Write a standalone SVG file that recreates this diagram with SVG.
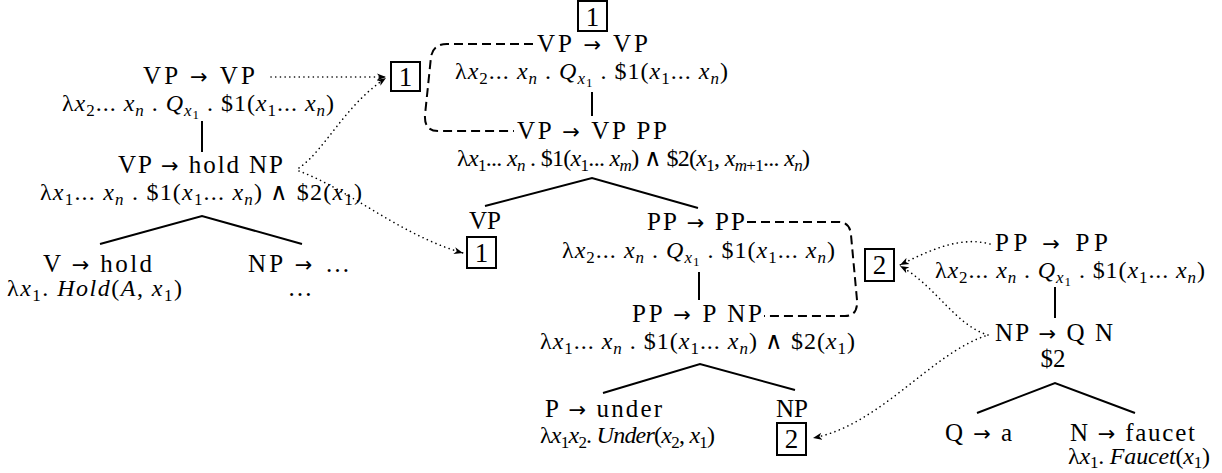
<svg xmlns="http://www.w3.org/2000/svg" width="1222" height="473" viewBox="0 0 1222 473">
<style>
.t{font-family:"Liberation Serif","Times New Roman",serif;font-size:25px;fill:#000;white-space:pre}
.l{font-size:24px}
.i{font-style:italic}
.s{font-size:17px}
.ss{font-size:13px}
.ar{font-family:"DejaVu Sans",sans-serif;font-size:21px}
.n{font-size:27px}
.tree{stroke:#000;stroke-width:2;fill:none}
.dash{stroke:#000;stroke-width:2;fill:none;stroke-dasharray:9 5}
.dot{stroke:#000;stroke-width:1.6;fill:none;stroke-dasharray:0.1 4.6;stroke-linecap:round}
.box{stroke:#000;stroke-width:2;fill:#fff}
</style>
<defs>
<marker id="ah" markerWidth="10" markerHeight="8" refX="9" refY="4" orient="auto" markerUnits="userSpaceOnUse"><path d="M0,0.5 L9,4 L0,7.5 L2.5,4 z" fill="#000"/></marker>
</defs>

<g id="connectors">
<path class="dot" d="M 271 77 L 386 77" marker-end="url(#ah)"/>
<path class="dot" d="M 299 168 C 325 150, 345 105, 386 78" marker-end="url(#ah)"/>
<path class="dot" d="M 299 171 C 350 190, 400 235, 463 253" marker-end="url(#ah)"/>
<path class="dot" d="M 990 244 C 960 236, 930 250, 900 265" marker-end="url(#ah)"/>
<path class="dot" d="M 988 335 C 955 325, 935 285, 900 266" marker-end="url(#ah)"/>
<path class="dot" d="M 985 336 C 930 355, 880 425, 813 438" marker-end="url(#ah)"/>
<path class="dash" d="M 533 44 L 447 44 Q 433 44 431 57 L 425 115 Q 424 131 438 131 L 514 131"/>
<path class="dash" d="M 747 222 L 838 222 Q 850 222 851 235 L 857 300 Q 858 316 845 316 L 764 316"/>
<path class="tree" d="M 202 121 L 202 152"/>
<path class="tree" d="M 100 244 L 202 216 L 302 244"/>
<path class="tree" d="M 592 92 L 592 116"/>
<path class="tree" d="M 485 206 L 592 178 L 698 208"/>
<path class="tree" d="M 699 272 L 699 300"/>
<path class="tree" d="M 603 393 L 700 364 L 795 390"/>
<path class="tree" d="M 1055 287 L 1055 318"/>
<path class="tree" d="M 977 413 L 1055 383 L 1135 413"/>
</g>

<g id="box-left-1"><rect class="box" x="391" y="62" width="29" height="29"/><text class="t n" x="405.5" y="86" text-anchor="middle">1</text></g>
<g id="box-top-1"><rect class="box" x="578" y="1" width="29" height="30"/><text class="t n" x="592.5" y="26" text-anchor="middle">1</text></g>
<g id="box-vp-1"><rect class="box" x="467" y="237" width="29" height="31"/><text class="t n" x="481.5" y="262" text-anchor="middle">1</text></g>
<g id="box-mid-2"><rect class="box" x="865" y="249" width="29" height="32"/><text class="t n" x="879.5" y="274" text-anchor="middle">2</text></g>
<g id="box-np-2"><rect class="box" x="777" y="423" width="29" height="32"/><text class="t n" x="791.5" y="448" text-anchor="middle">2</text></g>

<g id="left-vp-vp">
<text class="t" x="143" y="84" textLength="112">VP <tspan class="ar">→</tspan> VP</text>
<text class="t l" x="62" y="111" textLength="272">λ<tspan class="i">x</tspan><tspan class="s" dy="5">2</tspan><tspan dy="-5">... </tspan><tspan class="i">x</tspan><tspan class="s i" dy="5">n</tspan><tspan dy="-5"> . </tspan><tspan class="i">Q</tspan><tspan class="s i" dy="5">x</tspan><tspan class="ss" dy="3">1</tspan><tspan dy="-8"> . $1(</tspan><tspan class="i">x</tspan><tspan class="s" dy="5">1</tspan><tspan dy="-5">... </tspan><tspan class="i">x</tspan><tspan class="s i" dy="5">n</tspan><tspan dy="-5">)</tspan></text>
</g>
<g id="left-vp-hold">
<text class="t" x="118" y="173" textLength="165">VP <tspan class="ar">→</tspan> hold NP</text>
<text class="t l" x="40" y="200" textLength="322">λ<tspan class="i">x</tspan><tspan class="s" dy="5">1</tspan><tspan dy="-5">... </tspan><tspan class="i">x</tspan><tspan class="s i" dy="5">n</tspan><tspan dy="-5"> . $1(</tspan><tspan class="i">x</tspan><tspan class="s" dy="5">1</tspan><tspan dy="-5">... </tspan><tspan class="i">x</tspan><tspan class="s i" dy="5">n</tspan><tspan dy="-5">) ∧ $2(</tspan><tspan class="i">x</tspan><tspan class="s" dy="5">1</tspan><tspan dy="-5">)</tspan></text>
</g>
<g id="left-v-hold">
<text class="t" x="43" y="272" textLength="109">V <tspan class="ar">→</tspan> hold</text>
<text class="t l" x="7" y="296" textLength="175">λ<tspan class="i">x</tspan><tspan class="s" dy="5">1</tspan><tspan dy="-5">. </tspan><tspan class="i">Hold</tspan><tspan>(</tspan><tspan class="i">A</tspan><tspan>, </tspan><tspan class="i">x</tspan><tspan class="s" dy="5">1</tspan><tspan dy="-5">)</tspan></text>
</g>
<g id="left-np">
<text class="t" x="248" y="272" textLength="102">NP <tspan class="ar">→</tspan> …</text>
<text class="t" x="300" y="296" text-anchor="middle">…</text>
</g>

<g id="mid-vp-vp">
<text class="t" x="537" y="52" textLength="111">VP <tspan class="ar">→</tspan> VP</text>
<text class="t l" x="455" y="79" textLength="273">λ<tspan class="i">x</tspan><tspan class="s" dy="5">2</tspan><tspan dy="-5">... </tspan><tspan class="i">x</tspan><tspan class="s i" dy="5">n</tspan><tspan dy="-5"> . </tspan><tspan class="i">Q</tspan><tspan class="s i" dy="5">x</tspan><tspan class="ss" dy="3">1</tspan><tspan dy="-8"> . $1(</tspan><tspan class="i">x</tspan><tspan class="s" dy="5">1</tspan><tspan dy="-5">... </tspan><tspan class="i">x</tspan><tspan class="s i" dy="5">n</tspan><tspan dy="-5">)</tspan></text>
</g>
<g id="mid-vp-vp-pp">
<text class="t" x="517" y="139" textLength="150">VP <tspan class="ar">→</tspan> VP PP</text>
<text class="t l" x="457" y="166" textLength="353">λ<tspan class="i">x</tspan><tspan class="s" dy="5">1</tspan><tspan dy="-5">... </tspan><tspan class="i">x</tspan><tspan class="s i" dy="5">n</tspan><tspan dy="-5"> . $1(</tspan><tspan class="i">x</tspan><tspan class="s" dy="5">1</tspan><tspan dy="-5">... </tspan><tspan class="i">x</tspan><tspan class="s i" dy="5">m</tspan><tspan dy="-5">) ∧ $2(</tspan><tspan class="i">x</tspan><tspan class="s" dy="5">1</tspan><tspan dy="-5">, </tspan><tspan class="i">x</tspan><tspan class="s" dy="5"><tspan class="i">m</tspan>+1</tspan><tspan dy="-5">... </tspan><tspan class="i">x</tspan><tspan class="s i" dy="5">n</tspan><tspan dy="-5">)</tspan></text>
</g>
<g id="mid-vp">
<text class="t" x="485" y="229" text-anchor="middle">VP</text>
</g>
<g id="mid-pp-pp">
<text class="t" x="647" y="230" textLength="98">PP <tspan class="ar">→</tspan> PP</text>
<text class="t l" x="562" y="258" textLength="273">λ<tspan class="i">x</tspan><tspan class="s" dy="5">2</tspan><tspan dy="-5">... </tspan><tspan class="i">x</tspan><tspan class="s i" dy="5">n</tspan><tspan dy="-5"> . </tspan><tspan class="i">Q</tspan><tspan class="s i" dy="5">x</tspan><tspan class="ss" dy="3">1</tspan><tspan dy="-8"> . $1(</tspan><tspan class="i">x</tspan><tspan class="s" dy="5">1</tspan><tspan dy="-5">... </tspan><tspan class="i">x</tspan><tspan class="s i" dy="5">n</tspan><tspan dy="-5">)</tspan></text>
</g>
<g id="mid-pp-p-np">
<text class="t" x="632" y="322" textLength="130">PP <tspan class="ar">→</tspan> P NP</text>
<text class="t l" x="540" y="349" textLength="315">λ<tspan class="i">x</tspan><tspan class="s" dy="5">1</tspan><tspan dy="-5">... </tspan><tspan class="i">x</tspan><tspan class="s i" dy="5">n</tspan><tspan dy="-5"> . $1(</tspan><tspan class="i">x</tspan><tspan class="s" dy="5">1</tspan><tspan dy="-5">... </tspan><tspan class="i">x</tspan><tspan class="s i" dy="5">n</tspan><tspan dy="-5">) ∧ $2(</tspan><tspan class="i">x</tspan><tspan class="s" dy="5">1</tspan><tspan dy="-5">)</tspan></text>
</g>
<g id="mid-p-under">
<text class="t" x="545" y="417" textLength="117">P <tspan class="ar">→</tspan> under</text>
<text class="t l" x="540" y="443" textLength="175">λ<tspan class="i">x</tspan><tspan class="s" dy="5">1</tspan><tspan class="i" dy="-5">x</tspan><tspan class="s" dy="5">2</tspan><tspan dy="-5">. </tspan><tspan class="i">Under</tspan><tspan>(</tspan><tspan class="i">x</tspan><tspan class="s" dy="5">2</tspan><tspan dy="-5">, </tspan><tspan class="i">x</tspan><tspan class="s" dy="5">1</tspan><tspan dy="-5">)</tspan></text>
</g>
<g id="mid-np">
<text class="t" x="792" y="417" text-anchor="middle">NP</text>
</g>

<g id="right-pp-pp">
<text class="t" x="995" y="251" textLength="113">PP <tspan class="ar">→</tspan> PP</text>
<text class="t l" x="935" y="278" textLength="270">λ<tspan class="i">x</tspan><tspan class="s" dy="5">2</tspan><tspan dy="-5">... </tspan><tspan class="i">x</tspan><tspan class="s i" dy="5">n</tspan><tspan dy="-5"> . </tspan><tspan class="i">Q</tspan><tspan class="s i" dy="5">x</tspan><tspan class="ss" dy="3">1</tspan><tspan dy="-8"> . $1(</tspan><tspan class="i">x</tspan><tspan class="s" dy="5">1</tspan><tspan dy="-5">... </tspan><tspan class="i">x</tspan><tspan class="s i" dy="5">n</tspan><tspan dy="-5">)</tspan></text>
</g>
<g id="right-np-q-n">
<text class="t" x="995" y="341" textLength="118">NP <tspan class="ar">→</tspan> Q N</text>
<text class="t" x="1053" y="367" text-anchor="middle">$2</text>
</g>
<g id="right-q-a">
<text class="t" x="945" y="441" textLength="67">Q <tspan class="ar">→</tspan> a</text>
</g>
<g id="right-n-faucet">
<text class="t" x="1070" y="441" textLength="125">N <tspan class="ar">→</tspan> faucet</text>
<text class="t l" x="1068" y="464" textLength="142">λ<tspan class="i">x</tspan><tspan class="s" dy="4">1</tspan><tspan dy="-4">. </tspan><tspan class="i">Faucet</tspan><tspan>(</tspan><tspan class="i">x</tspan><tspan class="s" dy="4">1</tspan><tspan dy="-4">)</tspan></text>
</g>
</svg>
